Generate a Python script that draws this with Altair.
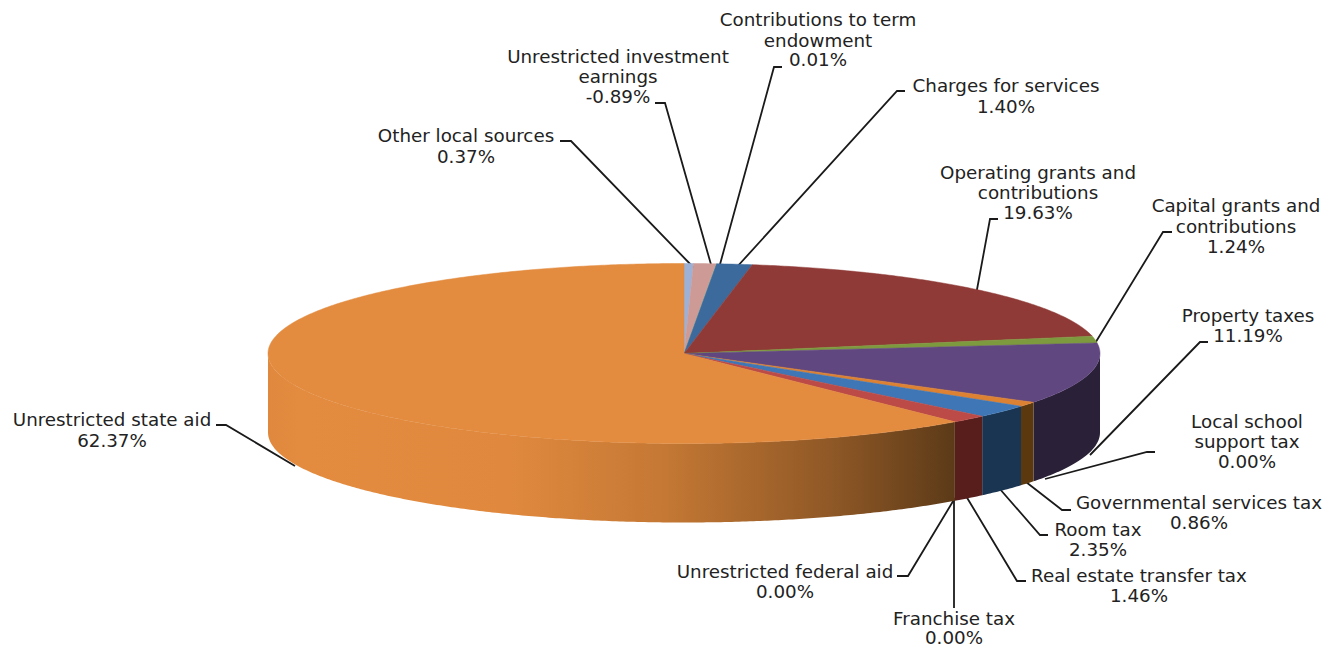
import math
import altair as alt
import pandas as pd

# Revenue shares, clockwise from twelve o'clock
slices = ["Other local sources", "Unrestricted investment earnings", "Contributions to term endowment",
          "Charges for services", "Operating grants and contributions", "Capital grants and contributions",
          "Property taxes", "Local school support tax", "Governmental services tax", "Room tax",
          "Real estate transfer tax", "Franchise tax", "Unrestricted federal aid", "Unrestricted state aid"]
shares = [0.37, -0.89, 0.01, 1.40, 19.63, 1.24, 11.19, 0.00, 0.86, 2.35, 1.46, 0.00, 0.00, 62.37]
top_colors = ["#9DB1D6", "#CD9A96", "#B9C98F", "#3D6A9D", "#8F3A36", "#7E9A3F", "#61477F", "#8064A2",
              "#DD8232", "#3F76B5", "#BC4A46", "#8F3A36", "#7E9A3F", "#E38B3F"]
side_colors = ["#9DB1D6", "#CD9A96", "#B9C98F", "#24405F", "#571E1C", "#4A5C25", "#2A2138", "#2A2138",
               "#5C380F", "#1A3552", "#571E1C", "#571E1C", "#4A5C25", "#5C3A18"]

# Each label is a stack of centred lines
label_lines = [
    ["Other local sources", "0.37%"],
    ["Unrestricted investment", "earnings", "-0.89%"],
    ["Contributions to term", "endowment", "0.01%"],
    ["Charges for services", "1.40%"],
    ["Operating grants and", "contributions", "19.63%"],
    ["Capital grants and", "contributions", "1.24%"],
    ["Property taxes", "11.19%"],
    ["Local school", "support tax", "0.00%"],
    ["Governmental services tax", "0.86%"],
    ["Room tax", "2.35%"],
    ["Real estate transfer tax", "1.46%"],
    ["Franchise tax", "0.00%"],
    ["Unrestricted federal aid", "0.00%"],
    ["Unrestricted state aid", "62.37%"],
]
label_centers = [466, 618, 818, 1006, 1038, 1236, 1248, 1247, 1199, 1098, 1139, 954, 785, 112]
label_baselines = [
    [142, 163], [63, 83, 103], [26, 47, 66], [92, 113], [179, 199, 219], [212, 233, 253],
    [322, 342], [428, 448, 468], [509, 529], [536, 556], [582, 602], [625, 644], [578, 598], [426, 447],
]
leader_paths = [
    [(694, 268), (571, 141), (560, 141)],
    [(712, 268), (665, 103), (655, 103)],
    [(719, 268), (774, 67), (782, 67)],
    [(736, 268), (897, 91), (905, 91)],
    [(976, 295), (990, 219), (998, 219)],
    [(1094, 345), (1163, 232), (1172, 232)],
    [(1090, 455), (1200, 342), (1208, 342)],
    [(1045, 479), (1147, 452), (1155, 452)],
    [(1026, 482), (1062, 510), (1071, 510)],
    [(999, 488), (1040, 535), (1048, 535)],
    [(966, 496), (1017, 581), (1026, 581)],
    [(954, 498), (954, 608)],
    [(955, 498), (908, 576), (897, 576)],
    [(295, 466), (226, 425), (216, 425)],
]

CX, CY, RX, RY, DEPTH = 684, 353.5, 416, 90, 79
W, H = 1329, 647
FRONT_START, FRONT_END = 90.0, 270.0


def rim(deg):
    t = math.radians(deg)
    return CX + RX * math.sin(t), CY - RY * math.cos(t)


def angle_steps(a, b):
    n = max(2, int(abs(b - a) * 2) + 1)
    return [a + (b - a) * i / (n - 1) for i in range(n)]


x_enc = alt.X("x:Q", scale=alt.Scale(domain=[0, W], range=[0, W]), axis=None)
y_enc = alt.Y("y:Q", scale=alt.Scale(domain=[0, H], range=[0, H]), axis=None)

# Slices span their absolute share of the whole circle
total = sum(abs(s) for s in shares)
spans = []
cursor = 0.0
for s in shares:
    end = cursor + abs(s) / total * 360
    spans.append((cursor, end))
    cursor = end

layers = []

# Leader lines sit beneath the pie so their ends tuck under its rim
for path in leader_paths:
    df = pd.DataFrame([{"x": p[0], "y": p[1], "i": i} for i, p in enumerate(path)])
    layers.append(alt.Chart(df).mark_line(color="#1a1a1a", strokeWidth=1.8).encode(x=x_enc, y=y_enc, order="i:Q"))

# Outer wall: only the part of each slice facing the viewer
state_gradient = alt.Gradient(
    gradient="linear", x1=0, x2=1, y1=0, y2=0,
    stops=[
        alt.GradientStop(offset=0.0, color="#E0893E"),
        alt.GradientStop(offset=0.05, color="#E38B3F"),
        alt.GradientStop(offset=0.35, color="#E0893E"),
        alt.GradientStop(offset=0.58, color="#C47834"),
        alt.GradientStop(offset=0.82, color="#8F5826"),
        alt.GradientStop(offset=1.0, color="#5C3A18"),
    ],
)
for name, (a, b), color in zip(slices, spans, side_colors):
    lo, hi = max(a, FRONT_START), min(b, FRONT_END)
    if hi <= lo:
        continue
    steps = angle_steps(lo, hi)
    rows = []
    for d in steps:
        x, y = rim(d)
        rows.append((x, y))
    for d in reversed(steps):
        x, y = rim(d)
        rows.append((x, y + DEPTH))
    df = pd.DataFrame([{"x": p[0], "y": p[1], "i": i} for i, p in enumerate(rows)])
    fill = state_gradient if name == "Unrestricted state aid" else color
    layers.append(
        alt.Chart(df)
        .mark_line(interpolate="linear-closed", fill=fill, strokeWidth=0, strokeOpacity=0)
        .encode(x=x_enc, y=y_enc, order="i:Q")
    )

# Top face wedges
for name, (a, b), color in zip(slices, spans, top_colors):
    if b <= a:
        continue
    rows = [{"x": CX, "y": CY, "i": 0}]
    for j, d in enumerate(angle_steps(a, b)):
        x, y = rim(d)
        rows.append({"x": x, "y": y, "i": j + 1})
    layers.append(
        alt.Chart(pd.DataFrame(rows))
        .mark_line(interpolate="linear-closed", fill=color, stroke=color, strokeWidth=0.5)
        .encode(x=x_enc, y=y_enc, order="i:Q")
    )

# Labels
text_rows = []
for lines, cx, ys in zip(label_lines, label_centers, label_baselines):
    for line, y in zip(lines, ys):
        text_rows.append({"x": cx, "y": y, "text": line})
layers.append(
    alt.Chart(pd.DataFrame(text_rows))
    .mark_text(font="DejaVu Sans", fontSize=18.3, color="#222222", align="center", baseline="alphabetic")
    .encode(x=x_enc, y=y_enc, text="text:N")
)

chart = (
    alt.layer(*layers)
    .properties(width=W, height=H, padding=0, autosize=alt.AutoSizeParams(type="none"))
    .configure_view(stroke=None)
)
chart.save("out.html", embed_options={"renderer": "svg", "actions": False})
